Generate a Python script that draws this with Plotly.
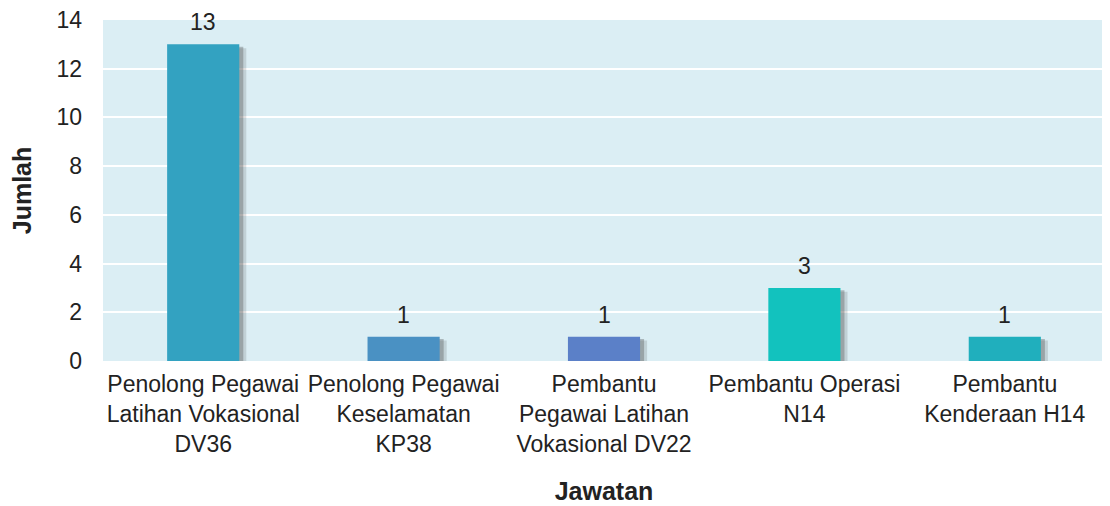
"""Bar chart: jumlah jawatan."""

import plotly.graph_objects as go

categories = [
    "Penolong Pegawai<br>Latihan Vokasional<br>DV36",
    "Penolong Pegawai<br>Keselamatan<br>KP38",
    "Pembantu<br>Pegawai Latihan<br>Vokasional DV22",
    "Pembantu Operasi<br>N14",
    "Pembantu<br>Kenderaan H14",
]
counts = [13, 1, 1, 3, 1]
colors = ["#33A2C1", "#4A91C3", "#5B80C8", "#12C2BE", "#20AFBD"]

FONT = "Liberation Sans, Arial, sans-serif"

fig = go.Figure()

# soft drop shadow behind each bar (two layers to fake a blur)
for off, base, alpha in [(-0.145, -0.16, 0.18), (-0.16, -0.10, 0.35)]:
    fig.add_trace(go.Bar(
        x=categories, y=counts, base=base,
        width=0.36, offset=off,
        marker=dict(color=f"rgba(80,80,80,{alpha})", line=dict(width=0)),
        hoverinfo="skip", showlegend=False,
    ))
fig.add_trace(go.Bar(
    x=categories, y=counts,
    width=0.36, offset=-0.18,
    marker=dict(color=colors, line=dict(width=0)),
    showlegend=False,
))

# value labels sit a little higher above the bars than plotly's outside text
for cat, val in zip(categories, counts):
    fig.add_annotation(
        x=cat, y=val, text=str(val), showarrow=False,
        yanchor="bottom", yshift=8, borderpad=0,
        font=dict(family=FONT, size=23, color="#222222"),
    )

# page body adds an 8px offset, margins below account for it
fig.update_layout(
    width=1110, height=506,
    margin=dict(l=95, r=13, t=12, b=153),
    paper_bgcolor="white", plot_bgcolor="#DBEEF4",
    barmode="overlay",
    font=dict(family=FONT, size=23, color="#222222"),
    xaxis=dict(
        title=dict(text="<b>Jawatan</b>", font=dict(size=25), standoff=26),
        tickfont=dict(size=23), showgrid=False, zeroline=False,
        showline=False, ticks="", ticklabelstandoff=7, automargin=False,
    ),
    yaxis=dict(
        title=dict(text="<b>Jumlah</b>", font=dict(size=25), standoff=20),
        range=[0, 14], dtick=2, tickfont=dict(size=23),
        showgrid=True, gridcolor="white", gridwidth=2,
        zeroline=False, showline=False, ticks="",
        ticklabelstandoff=20, automargin=False, ticklabeloverflow="allow",
    ),
)

fig.write_html("out.html")
